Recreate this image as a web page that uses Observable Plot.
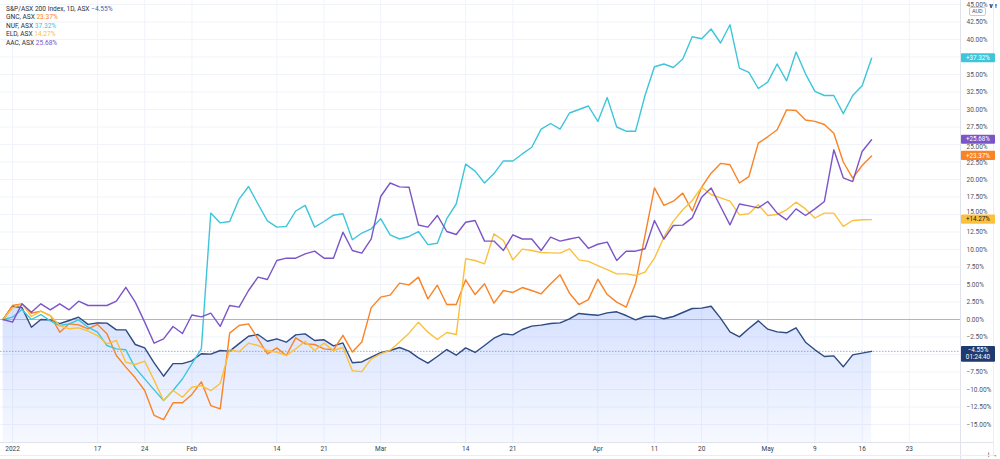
<!DOCTYPE html>
<html><head><meta charset="utf-8">
<script src="https://cdn.jsdelivr.net/npm/d3@7"></script>
<script src="https://cdn.jsdelivr.net/npm/@observablehq/plot@0.6"></script>
<style>
html,body{margin:0;padding:0;background:#fff;}
#wrap{position:relative;width:1000px;height:459px;overflow:hidden;font-family:Roboto,"Noto Sans",sans-serif;}
#chart svg{display:block;}
#legend{position:absolute;left:6px;top:4.5px;font-size:6.6px;line-height:8.6px;color:#2a2e39;white-space:nowrap;}
#aud{position:absolute;left:969px;top:7px;font-size:5.5px;line-height:7px;padding:0 2px;border:0.6px solid #c9ccd3;border-radius:2px;color:#50535e;background:#fff;}
</style></head><body>
<div id="wrap"><div id="chart"></div><div id="legend"></div><div id="aud">AUD</div></div>
<script>
// Trading days (ASX) shown on the chart
const dates = ("2021-12-31 2022-01-04 2022-01-05 2022-01-06 2022-01-07 2022-01-10 2022-01-11 2022-01-12 2022-01-13 2022-01-14 " +
"2022-01-17 2022-01-18 2022-01-19 2022-01-20 2022-01-21 2022-01-24 2022-01-25 2022-01-27 2022-01-28 2022-01-31 " +
"2022-02-01 2022-02-02 2022-02-03 2022-02-04 2022-02-07 2022-02-08 2022-02-09 2022-02-10 2022-02-11 2022-02-14 " +
"2022-02-15 2022-02-16 2022-02-17 2022-02-18 2022-02-21 2022-02-22 2022-02-23 2022-02-24 2022-02-25 2022-02-28 " +
"2022-03-01 2022-03-02 2022-03-03 2022-03-04 2022-03-07 2022-03-08 2022-03-09 2022-03-10 2022-03-11 2022-03-14 " +
"2022-03-15 2022-03-16 2022-03-17 2022-03-18 2022-03-21 2022-03-22 2022-03-23 2022-03-24 2022-03-25 2022-03-28 " +
"2022-03-29 2022-03-30 2022-03-31 2022-04-01 2022-04-04 2022-04-05 2022-04-06 2022-04-07 2022-04-08 2022-04-11 " +
"2022-04-12 2022-04-13 2022-04-14 2022-04-19 2022-04-20 2022-04-21 2022-04-22 2022-04-26 2022-04-27 2022-04-28 " +
"2022-04-29 2022-05-02 2022-05-03 2022-05-04 2022-05-05 2022-05-06 2022-05-09 2022-05-10 2022-05-11 2022-05-12 " +
"2022-05-13 2022-05-16 2022-05-17 2022-05-18 2022-05-19 2022-05-20 2022-05-23").split(" ");

// % change since first bar
const asx200 = [0,1.9,1.7,-1.1,0,-0.05,-0.6,-0.14,0.33,-0.7,-0.48,-0.52,-1.48,-1.48,-3.57,-4.05,-6.2,-8.1,-6.3,-6.3,
-5.9,-4.9,-4.95,-4.43,-4.52,-3.45,-2.4,-2.14,-3.1,-2.76,-3.24,-2.19,-2.05,-3.0,-2.9,-3.76,-3.35,-6.17,-6.07,-5.38,
-4.73,-4.43,-4.0,-4.52,-5.48,-6.24,-5.29,-4.29,-5.1,-4.05,-4.71,-3.71,-2.67,-2.05,-2.19,-1.43,-0.95,-0.81,-0.57,-0.48,
0.1,0.86,0.72,0.6,0.95,1.1,0.57,-0.05,0.43,0.48,0.1,0.43,1.0,1.57,1.62,1.9,0.19,-1.76,-2.48,-1.29,
-0.19,-1.38,-1.76,-1.9,-1.19,-3.24,-4.33,-5.29,-5.19,-6.76,-5.05,-4.81,-4.55];
const gnc = [0,2.0,2.24,0.9,1.19,0.57,-1.81,-0.62,-0.76,-1.33,-0.7,-2.05,-5.14,-6.8,-8.33,-10.14,-13.7,-14.3,-11.9,-11.9,
-10.7,-8.9,-12.3,-12.76,-1.95,-0.86,-0.62,-2.76,-4.9,-4.05,-5.14,-2.62,-3.48,-3.57,-4.19,-4.33,-2.26,-4.65,-3.22,1.7,
3.19,3.48,5.2,4.95,6.05,2.95,4.9,2.14,2.14,5.67,3.57,5.1,2.33,4.14,3.86,4.57,4.14,3.67,5.1,6.38,
3.76,2.14,2.84,5.76,3.57,2.48,1.76,5.19,12.0,18.8,16.3,16.9,18.05,15.5,18.9,20.9,22.3,22.1,19.5,20.4,
25.2,26.1,27.1,29.95,29.86,28.5,28.3,27.86,26.6,22.5,20.2,22.0,23.37];
const nuf = [0,0.33,1.43,0,0.71,-0.2,-0.86,-0.62,-0.05,-1.1,-1.81,-3.71,-4.19,-4.33,-6.9,-8.48,-10.05,-11.57,-10.14,-8.5,
-6.3,-4.2,15.2,13.8,14.0,17.2,19.0,16.5,14.1,13.2,13.3,15.5,16.3,13.2,14.0,14.9,15.1,11.4,12.35,12.95,
14.4,12.1,11.5,11.86,12.57,10.7,10.9,14.4,16.5,22.2,21.2,19.5,20.85,22.65,22.65,23.65,24.6,27.2,28.0,27.2,
29.5,30.0,30.5,28.3,31.7,27.5,26.9,26.9,32.0,36.1,36.5,36.0,37.2,40.4,40.1,41.5,39.5,42.1,35.9,35.3,
33.0,33.9,36.5,34.1,38.2,35.1,32.6,32.0,32.0,29.4,32.0,33.4,37.32];
const eld = [0,1.67,2.24,0.43,1.19,0.57,-0.86,-1.33,-1.19,-1.67,-2.29,-3.48,-3.0,-6.1,-6.43,-5.95,-8.7,-11.57,-10.14,-11.1,
-9.67,-9.43,-10.17,-9.15,-4.3,-4.6,-3.38,-3.71,-4.43,-4.67,-5.14,-4.19,-3.1,-4.43,-3.38,-4.43,-4.0,-7.33,-7.45,-5.62,
-4.9,-4.38,-3.2,-1.95,-0.38,-1.81,-2.86,-1.86,-2.14,8.67,8.43,7.95,12.24,11.29,8.52,10.05,9.86,9.57,9.52,9.48,
10.1,8.52,8.3,7.71,7.14,6.52,6.52,6.29,6.76,8.76,11.76,14.05,15.67,17.0,18.9,17.86,17.38,16.9,14.95,15.1,
16.4,14.86,15.0,15.67,16.76,15.8,14.5,15.2,15.2,13.3,14.14,14.24,14.27];
const aac = [0,-0.38,2.24,1.05,2.24,1.38,2.24,1.38,2.62,2.0,2.0,2.0,2.62,4.6,2.48,-0.38,-3.38,-2.76,-1.0,-2.0,
0.64,0.38,0.9,-0.98,2.0,1.76,4.14,6.05,5.71,8.43,8.76,8.76,9.38,9.76,8.76,8.76,12.48,9.86,9.48,11.52,
17.57,19.5,18.95,18.9,13.5,13.2,14.86,12.57,12.14,13.9,14.14,11.2,11.2,9.86,12.1,11.5,11.5,9.86,11.76,11.2,
11.5,11.76,10.17,10.75,11.05,8.43,9.76,9.76,10.1,14.14,11.48,13.43,13.48,14.52,17.48,18.8,16.14,13.52,16.5,16.24,
15.95,16.86,15.2,14.24,15.8,14.86,15.8,16.86,24.24,20.24,19.7,24.0,25.68];

const seriesNames = ["GNC, ASX", "NUF, ASX", "ELD, ASX", "AAC, ASX"];
const seriesColors = ["#f98325", "#3ec5da", "#fbc13c", "#7b55c7"];
const seriesValues = [gnc, nuf, eld, aac];
const indexName = "S&P/ASX 200 Index, 1D, ASX";
const indexColor = "#2f4b80";
const countdown = "01:24:40";

const yTicks = [-15,-12.5,-10,-7.5,-5,-2.5,0,2.5,5,7.5,10,12.5,15,17.5,20,22.5,25,27.5,30,32.5,35,37.5,40,42.5,45];
const tickDates = ["2022-01-04","2022-01-17","2022-01-24","2022-02-01","2022-02-14","2022-02-21","2022-03-01","2022-03-14",
"2022-03-21","2022-04-01","2022-04-11","2022-04-20","2022-05-02","2022-05-09","2022-05-16","2022-05-23"];
const tickLabels = ["2022","17","24","Feb","14","21","Mar","14","21","Apr","11","20","May","9","16","23"];

const fmtPct = v => (v < 0 ? "\u2212" : "") + Math.abs(v).toFixed(2) + "%";
const fmtSigned = v => (v < 0 ? "\u2212" : "+") + Math.abs(v).toFixed(2) + "%";

const rows = vals => vals.map((v, i) => ({i, v, date: dates[i]}));
const idxRows = rows(asx200);
const lastIdx = asx200[asx200.length - 1];
const lastVals = seriesValues.map(v => v[v.length - 1]);
const xTickIdx = tickDates.map(d => dates.indexOf(d));
const xLabel = new Map(xTickIdx.map((v, k) => [v, tickLabels[k]]));

// y axis tick labels: hide those fully covered by a price box, nudge the partly covered ones
const PX_PER_UNIT = 7; // y range 442px / 63.14 units
const yLabelTicks = yTicks.filter(t =>
  lastVals.every(v => Math.abs(t - v) > 0.6) && !(t > lastIdx - 2 && t < lastIdx + 1.1));
const nudge = t => {
  let dy = 0;
  for (const v of lastVals) {
    const d = (t - v) * PX_PER_UNIT; // >0: tick above box
    if (Math.abs(d) < 7.4) dy = d > 0 ? -(7.4 - d) : (7.4 + d);
  }
  return Math.round(dy * 10) / 10;
};
const tickGroups = d3.groups(yLabelTicks, nudge);

const NS = "http://www.w3.org/2000/svg";
const el = (tag, attrs) => { const e = document.createElementNS(NS, tag); for (const k in attrs) e.setAttribute(k, attrs[k]); return e; };

function defs() {
  const d = el("defs", {});
  const g = el("linearGradient", {id: "idxGrad", x1: 0, y1: 0, x2: 0, y2: 1});
  g.appendChild(el("stop", {offset: "0%", "stop-color": "#2962ff", "stop-opacity": 0.19}));
  g.appendChild(el("stop", {offset: "100%", "stop-color": "#2962ff", "stop-opacity": 0.04}));
  d.appendChild(g);
  return d;
}

function chrome(index, scales, values, dims) {
  const g = el("g", {});
  const xr = dims.width - dims.marginRight + 0.5;
  const yb = dims.height - dims.marginBottom + 0.5;
  g.appendChild(el("line", {x1: xr, x2: xr, y1: 0, y2: dims.height, stroke: "#e0e3eb"}));
  g.appendChild(el("line", {x1: 0, x2: dims.width - 6, y1: yb, y2: yb, stroke: "#e0e3eb"}));
  g.appendChild(el("line", {x1: 0, x2: dims.width - 6, y1: dims.height - 3.5, y2: dims.height - 3.5, stroke: "#eceef2"}));
  g.appendChild(el("line", {x1: dims.width - 6.5, x2: dims.width - 6.5, y1: 0, y2: dims.height - 3.5, stroke: "#eceef2"}));
  return g;
}

function priceLabels(index, scales, values, dims) {
  const g = el("g", {"font-size": 6.3, "text-anchor": "middle"});
  const x0 = dims.width - dims.marginRight + 1;
  const w = 34;
  const items = lastVals.map((v, k) => ({v, color: seriesColors[k], text: k === 2 ? "#131722" : "#fff"}));
  for (const it of items) {
    const y = scales.y(it.v);
    g.appendChild(el("rect", {x: x0, y: y - 4.6, width: w, height: 9.2, fill: it.color, rx: 1}));
    const t = el("text", {x: x0 + w / 2, y: y, dy: "0.35em", fill: it.text});
    t.textContent = fmtSigned(it.v);
    g.appendChild(t);
  }
  const y = scales.y(lastIdx);
  g.appendChild(el("rect", {x: x0, y: y - 4.8, width: w, height: 15.8, fill: "#1f3a6e", rx: 1}));
  const t1 = el("text", {x: x0 + w / 2, y: y - 0.6, dy: "0.35em", fill: "#fff"}); t1.textContent = fmtPct(lastIdx);
  const t2 = el("text", {x: x0 + w / 2, y: y + 6.4, dy: "0.35em", fill: "#fff"}); t2.textContent = countdown;
  g.appendChild(t1); g.appendChild(t2);
  return g;
}

const font = "Roboto, 'Noto Sans', sans-serif";
const chart = Plot.plot({
  width: 1000, height: 459,
  marginLeft: 0, marginRight: 40, marginTop: 0, marginBottom: 17,
  x: {type: "linear", domain: [-0.275, 101.42], axis: null},
  y: {domain: [-17.57, 45.57], axis: null},
  style: {fontFamily: font, fontSize: "7px", background: "transparent", color: "#50535e", overflow: "visible"},
  marks: [
    defs,
    Plot.gridY(yTicks, {stroke: "#f0f3fa", strokeOpacity: 1}),
    Plot.gridX(xTickIdx, {stroke: "#f0f3fa", strokeOpacity: 1}),
    Plot.areaY(idxRows, {x: "i", y1: -17.57, y2: "v", fill: "url(#idxGrad)"}),
    Plot.ruleY([0], {stroke: "#b2b5be", strokeWidth: 1}),
    Plot.ruleY([lastIdx], {stroke: "#5a6f9a", strokeDasharray: "1.5,1.5", strokeOpacity: 0.7, strokeWidth: 0.8}),
    Plot.lineY(idxRows, {x: "i", y: "v", stroke: indexColor, strokeWidth: 1.4}),
    ...seriesValues.map((vals, k) => Plot.lineY(rows(vals), {x: "i", y: "v", stroke: seriesColors[k], strokeWidth: 1.4})),
    ...tickGroups.map(([dy, ticks]) => Plot.axisY(ticks, {anchor: "right", tickSize: 0, tickPadding: 6, dy, tickFormat: fmtPct, fontSize: 6.5, color: "#50535e"})),
    Plot.axisX(xTickIdx, {anchor: "bottom", tickSize: 0, tickPadding: 3.5, tickFormat: d => xLabel.get(d), fontSize: 6.5, color: "#3a3e4a"}),
    chrome,
    priceLabels
  ]
});
document.getElementById("chart").appendChild(chart);

// Legend
const legend = document.getElementById("legend");
const addRow = (name, val, color) => {
  const div = document.createElement("div");
  div.textContent = name + "  ";
  const s = document.createElement("span");
  s.style.color = color; s.textContent = val;
  div.appendChild(s);
  legend.appendChild(div);
};
addRow(indexName, fmtPct(lastIdx), "#3f5fa8");
seriesValues.forEach((vals, k) => addRow(seriesNames[k], fmtPct(vals[vals.length - 1]), seriesColors[k]));
</script>
</body></html>
